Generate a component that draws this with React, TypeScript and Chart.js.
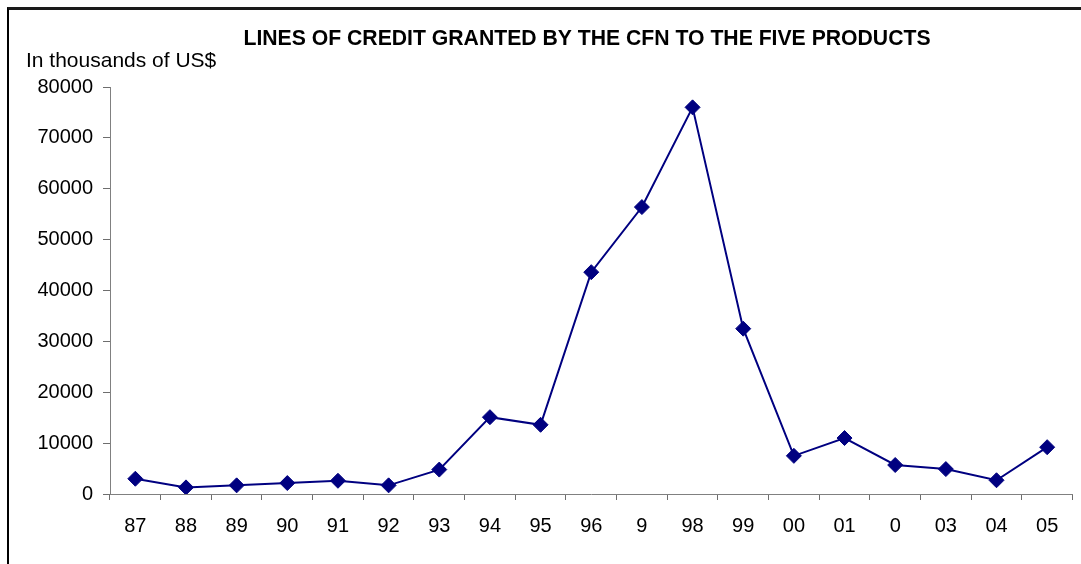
import React, { useEffect, useRef } from "react";
import { Chart, registerables } from "chart.js";

Chart.register(...registerables);

const years = ["87", "88", "89", "90", "91", "92", "93", "94", "95", "96", "9", "98", "99", "00", "01", "0", "03", "04", "05"];
const credit = [3000, 1300, 1700, 2150, 2600, 1700, 4800, 15100, 13600, 43600, 56400, 76000, 32500, 7500, 11000, 5700, 4900, 2700, 9200];
const chartTitle = "LINES OF CREDIT GRANTED BY THE CFN TO THE FIVE PRODUCTS";
const unitLabel = "In thousands of US$";

const FONT = "'Liberation Sans', Arial, sans-serif";

const textPlugin = {
  id: "textPlugin",
  afterDraw(chart: any) {
    const ctx = chart.ctx;
    ctx.save();
    ctx.fillStyle = "#000";
    ctx.textBaseline = "alphabetic";
    ctx.font = `bold 21.2px ${FONT}`;
    ctx.textAlign = "center";
    ctx.fillText(chartTitle, 587, 45);
    ctx.font = `21px ${FONT}`;
    ctx.textAlign = "left";
    ctx.fillText(unitLabel, 26, 67);
    ctx.restore();
  },
};

export default function App() {
  const ref = useRef<HTMLCanvasElement>(null);
  useEffect(() => {
    const chart = new Chart(ref.current!, {
      type: "line",
      data: {
        labels: years,
        datasets: [
          {
            data: credit,
            borderColor: "#000080",
            backgroundColor: "#000080",
            borderWidth: 2,
            pointStyle: "rectRot",
            pointRadius: 7.5,
            pointBackgroundColor: "#000080",
            pointBorderColor: "#000080",
            pointBorderWidth: 1,
            tension: 0,
          },
        ],
      },
      plugins: [textPlugin],
      options: {
        animation: false,
        responsive: false,
        devicePixelRatio: 1,
        layout: { padding: { left: 0, top: 87, right: 8, bottom: 0 } },
        plugins: { legend: { display: false }, tooltip: { enabled: false }, title: { display: false } },
        scales: {
          x: {
            offset: true,
            afterFit: (s: any) => {
              s.height = 70;
            },
            grid: { offset: true, drawOnChartArea: false, tickLength: 6, color: "#6e6e6e" },
            border: { color: "#808080", width: 1 },
            ticks: { font: { family: FONT, size: 20 }, color: "#000", padding: 14, maxRotation: 0, autoSkip: false },
          },
          y: {
            min: 0,
            max: 80000,
            afterFit: (s: any) => {
              s.width = 110;
            },
            grid: { drawOnChartArea: false, tickLength: 7, color: "#6e6e6e" },
            border: { color: "#808080", width: 1 },
            ticks: {
              stepSize: 10000,
              font: { family: FONT, size: 20 },
              color: "#000",
              padding: 10,
              callback: (v: any) => String(v),
            },
          },
        },
      },
    });
    return () => chart.destroy();
  }, []);
  return (
    <div style={{ position: "absolute", left: 0, top: 0, width: 1081, height: 564, background: "#fff" }}>
      <div
        style={{
          position: "absolute",
          left: 7,
          top: 7,
          width: 1081 - 7,
          height: 564 - 7,
          borderTop: "3px solid #1a1a1a",
          borderLeft: "2px solid #000",
          boxSizing: "border-box",
        }}
      />
      <canvas ref={ref} width={1081} height={564} style={{ position: "absolute", left: 0, top: 0 }} />
    </div>
  );
}
